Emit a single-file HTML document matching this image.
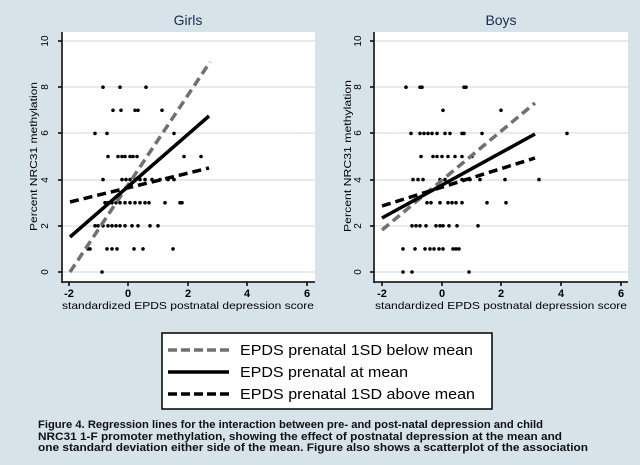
<!DOCTYPE html>
<html><head><meta charset="utf-8"><style>
body{margin:0;background:#d6e3e9;}
svg{display:block;font-family:"Liberation Sans",sans-serif;}
</style></head><body>
<svg width="640" height="465" viewBox="0 0 640 465" xmlns="http://www.w3.org/2000/svg">
<rect width="640" height="465" fill="#d6e3e9"/>
<g>
<rect x="62" y="32" width="253" height="250" fill="#fff"/>
<g stroke="#dbe6ea" stroke-width="1.5">
<line x1="62" y1="41" x2="315" y2="41"/><line x1="62" y1="87" x2="315" y2="87"/><line x1="62" y1="133" x2="315" y2="133"/><line x1="62" y1="180" x2="315" y2="180"/><line x1="62" y1="226" x2="315" y2="226"/><line x1="62" y1="272" x2="315" y2="272"/>
</g>
<g stroke="#000" stroke-width="1.5"><line x1="62" y1="32" x2="62" y2="283"/><line x1="62" y1="282" x2="315" y2="282"/>
<line x1="58" y1="41" x2="62" y2="41"/><line x1="58" y1="87" x2="62" y2="87"/><line x1="58" y1="133" x2="62" y2="133"/><line x1="58" y1="180" x2="62" y2="180"/><line x1="58" y1="226" x2="62" y2="226"/><line x1="58" y1="272" x2="62" y2="272"/>
<line x1="69" y1="282" x2="69" y2="286"/><line x1="128" y1="282" x2="128" y2="286"/><line x1="188" y1="282" x2="188" y2="286"/><line x1="247" y1="282" x2="247" y2="286"/><line x1="307" y1="282" x2="307" y2="286"/></g>
<text x="188" y="25" font-size="14" text-anchor="middle" fill="#1a2a50">Girls</text>
<g font-size="11" text-anchor="middle" font-weight="bold"><text x="69" y="297">-2</text><text x="128" y="297">0</text><text x="188" y="297">2</text><text x="247" y="297">4</text><text x="307" y="297">6</text></g>
<text x="62" y="309" font-size="10.5" textLength="252" lengthAdjust="spacingAndGlyphs">standardized EPDS postnatal depression score</text>
<g font-size="10" text-anchor="middle"><text transform="translate(44,41) rotate(-90)" y="4">10</text><text transform="translate(44,87) rotate(-90)" y="4">8</text><text transform="translate(44,133) rotate(-90)" y="4">6</text><text transform="translate(44,180) rotate(-90)" y="4">4</text><text transform="translate(44,226) rotate(-90)" y="4">2</text><text transform="translate(44,272) rotate(-90)" y="4">0</text></g>
<text transform="translate(37,231) rotate(-90)" font-size="10.5" textLength="149" lengthAdjust="spacingAndGlyphs">Percent NRC31 methylation</text>
</g>
<g>
<rect x="374" y="32" width="254" height="250" fill="#fff"/>
<g stroke="#dbe6ea" stroke-width="1.5">
<line x1="374" y1="41" x2="628" y2="41"/><line x1="374" y1="87" x2="628" y2="87"/><line x1="374" y1="133" x2="628" y2="133"/><line x1="374" y1="180" x2="628" y2="180"/><line x1="374" y1="226" x2="628" y2="226"/><line x1="374" y1="272" x2="628" y2="272"/>
</g>
<g stroke="#000" stroke-width="1.5"><line x1="374" y1="32" x2="374" y2="283"/><line x1="374" y1="282" x2="628" y2="282"/>
<line x1="370" y1="41" x2="374" y2="41"/><line x1="370" y1="87" x2="374" y2="87"/><line x1="370" y1="133" x2="374" y2="133"/><line x1="370" y1="180" x2="374" y2="180"/><line x1="370" y1="226" x2="374" y2="226"/><line x1="370" y1="272" x2="374" y2="272"/>
<line x1="382" y1="282" x2="382" y2="286"/><line x1="442" y1="282" x2="442" y2="286"/><line x1="501" y1="282" x2="501" y2="286"/><line x1="561" y1="282" x2="561" y2="286"/><line x1="621" y1="282" x2="621" y2="286"/></g>
<text x="501" y="25" font-size="14" text-anchor="middle" fill="#1a2a50">Boys</text>
<g font-size="11" text-anchor="middle" font-weight="bold"><text x="382" y="297">-2</text><text x="442" y="297">0</text><text x="501" y="297">2</text><text x="561" y="297">4</text><text x="621" y="297">6</text></g>
<text x="375" y="309" font-size="10.5" textLength="252" lengthAdjust="spacingAndGlyphs">standardized EPDS postnatal depression score</text>
<g font-size="10" text-anchor="middle"><text transform="translate(357,41) rotate(-90)" y="4">10</text><text transform="translate(357,87) rotate(-90)" y="4">8</text><text transform="translate(357,133) rotate(-90)" y="4">6</text><text transform="translate(357,180) rotate(-90)" y="4">4</text><text transform="translate(357,226) rotate(-90)" y="4">2</text><text transform="translate(357,272) rotate(-90)" y="4">0</text></g>
<text transform="translate(351,232) rotate(-90)" font-size="10.5" textLength="152" lengthAdjust="spacingAndGlyphs">Percent NRC31 methylation</text>
</g>
<g id="pts" fill="#000"></g>
<g fill="none" stroke-width="3.5">
<line x1="70" y1="272" x2="210" y2="62" stroke="#707070" stroke-dasharray="9,5"/>
<line x1="70" y1="237" x2="209" y2="116" stroke="#000"/>
<line x1="70" y1="202" x2="209" y2="168" stroke="#000" stroke-dasharray="9,5"/>
<line x1="382" y1="230" x2="535" y2="103" stroke="#707070" stroke-dasharray="9,5"/>
<line x1="382" y1="218" x2="535" y2="134" stroke="#000"/>
<line x1="382" y1="206" x2="535" y2="158" stroke="#000" stroke-dasharray="9,5"/>
</g>
<rect x="162" y="333" width="330" height="76" fill="#fff" stroke="#000" stroke-width="1.5"/>
<g stroke-width="3.5"><line x1="168" y1="350" x2="229" y2="350" stroke="#707070" stroke-dasharray="9,4"/>
<line x1="168" y1="372" x2="229" y2="372" stroke="#000"/>
<line x1="168" y1="394" x2="229" y2="394" stroke="#000" stroke-dasharray="9,4"/></g>
<g font-size="15"><text x="240" y="355" textLength="233" lengthAdjust="spacingAndGlyphs">EPDS prenatal 1SD below mean</text><text x="240" y="377" textLength="168" lengthAdjust="spacingAndGlyphs">EPDS prenatal at mean</text><text x="240" y="399" textLength="235" lengthAdjust="spacingAndGlyphs">EPDS prenatal 1SD above mean</text></g>
<g font-size="11" font-weight="bold" fill="#111"><text x="38" y="428" textLength="505" lengthAdjust="spacingAndGlyphs">Figure 4. Regression lines for the interaction between pre- and post-natal depression and child</text><text x="38" y="440" textLength="524" lengthAdjust="spacingAndGlyphs">NRC31 1-F promoter methylation, showing the effect of postnatal depression at the mean and</text><text x="38" y="451" textLength="550" lengthAdjust="spacingAndGlyphs">one standard deviation either side of the mean. Figure also shows a scatterplot of the association</text></g>
</svg>
<script>
var G={8:[103,120,146],7:[113,121,135,138,162],6:[95,107,174],5:[108,118,122,125,130,133,137,184,201],4:[103,122,126,130,135,140,145,152,160,168,174],3:[105,108,112,116,120,125,130,135,140,145,149,165,180,182],2:[95,98,103,108,112,116,120,125,132,138,150,158],1:[88,90,107,112,117,134,143,173],0:[102]};
var B={8:[406,420,422,464,466],7:[443,501],6:[411,420,424,428,432,437,445,450,462,464,482,567],5:[421,433,437,442,448,455,462,472],4:[413,418,423,440,445,462,470,480,505,539],3:[427,431,440,448,452,456,462,487,506],2:[412,416,420,426,436,440,443,449,457,478],1:[403,415,425,430,434,439,443,453,456,459],0:[403,412,469]};
var g=document.getElementById('pts'),s='';
[G,B].forEach(function(D){for(var v in D){var y=272-23.1*v;D[v].forEach(function(x){s+='<circle cx="'+x+'" cy="'+y+'" r="1.8"/>';});}});
g.innerHTML=s;
</script>
</body></html>
